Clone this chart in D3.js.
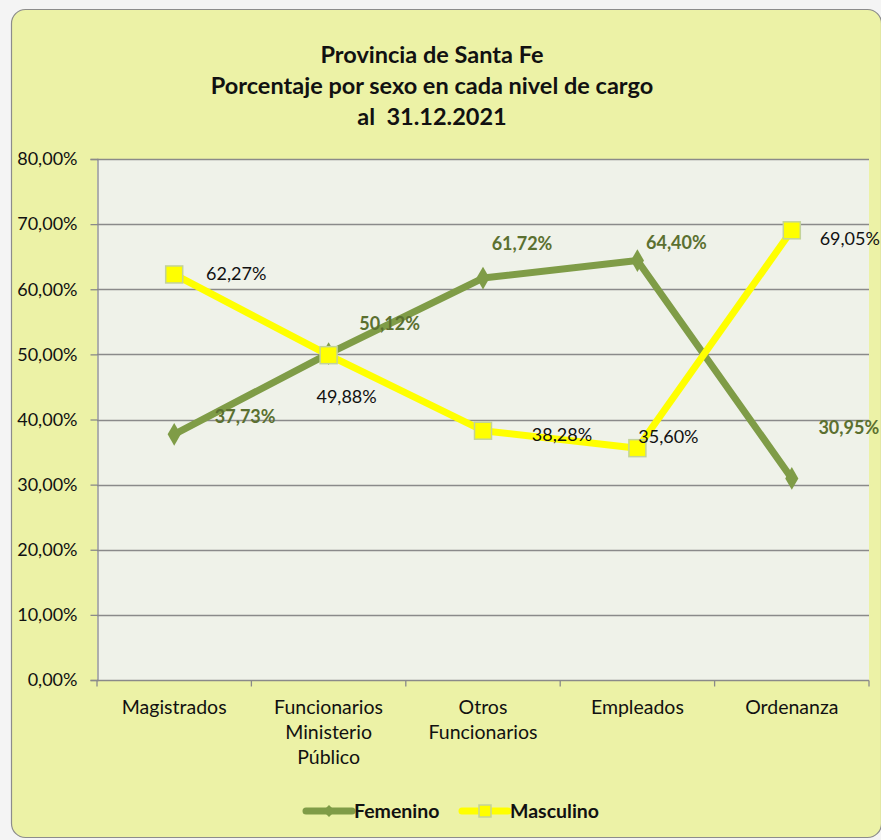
<!DOCTYPE html>
<html lang="es">
<head>
<meta charset="utf-8">
<script src="https://cdn.jsdelivr.net/npm/d3@7"></script>
<title>Porcentaje por sexo en cada nivel de cargo</title>
<style>
  body { margin: 0; background: #f4f4f4; }
  svg { display: block; font-family: Lato, "Open Sans", sans-serif; }
</style>
</head>
<body>
<div id="chart"></div>
<script>
// data
var categories = [["Magistrados"], ["Funcionarios", "Ministerio", "Público"], ["Otros", "Funcionarios"], ["Empleados"], ["Ordenanza"]];
var femenino = [37.73, 50.12, 61.72, 64.40, 30.95];
var masculino = [62.27, 49.88, 38.28, 35.60, 69.05];
var yTicks = [0, 10, 20, 30, 40, 50, 60, 70, 80];
var titleLines = ["Provincia de Santa Fe", "Porcentaje por sexo en cada nivel de cargo", "al  31.12.2021"];

// label offsets (px) relative to each point, placed as in the original
var femLabelOff = [[71, -17], [61, -30], [39, -34], [39, -18], [57, -50]];
var mascLabelOff = [[62, 0], [18, 42], [79, 4], [31, -11], [58, 9]];

var W = 881, H = 840;
var plot = {left: 97, right: 869, top: 159, bottom: 680};
var femColor = "#7f9c47", mascColor = "#ffff00";
var fmt = function(v) { return d3.format(".2f")(v).replace(".", ",") + "%"; };

var svg = d3.select("#chart").append("svg").attr("width", W).attr("height", H);

// outer chart box
svg.append("rect").attr("x", 11.5).attr("y", 9.5).attr("width", 870).attr("height", 828)
   .attr("rx", 14).attr("fill", "#ecf2a6").attr("stroke", "#8c8c8c").attr("stroke-width", 1.2);

// title
svg.append("g").selectAll("text").data(titleLines).join("text")
   .attr("x", 432).attr("y", function(d, i) { return 63 + i * 31; })
   .attr("text-anchor", "middle").attr("font-weight", "bold").attr("font-size", 23.5)
   .style("white-space", "pre").attr("fill", "#111").text(function(d) { return d; });

var x = d3.scaleBand().domain(d3.range(categories.length)).range([plot.left, plot.right]);
var y = d3.scaleLinear().domain([0, 80]).range([plot.bottom, plot.top]);

// plot area
svg.append("rect").attr("x", plot.left).attr("y", plot.top)
   .attr("width", plot.right - plot.left).attr("height", plot.bottom - plot.top).attr("fill", "#eff2e9");

// gridlines
svg.append("g").selectAll("line").data(yTicks.slice(1)).join("line")
   .attr("x1", plot.left).attr("x2", plot.right)
   .attr("y1", function(d) { return Math.round(y(d)) + 0.5; }).attr("y2", function(d) { return Math.round(y(d)) + 0.5; })
   .attr("stroke", "#8a8a8a").attr("stroke-width", 1.3);

// y axis
var yAxis = svg.append("g").attr("transform", "translate(" + (plot.left + 0.5) + ",0)")
   .call(d3.axisLeft(y).tickValues(yTicks).tickSize(7).tickPadding(13).tickFormat(fmt));
yAxis.selectAll("path, line").attr("stroke", "#8a8a8a").attr("stroke-width", 1.3);
yAxis.selectAll("text").attr("font-size", 18).attr("fill", "#111").attr("font-family", "Lato, sans-serif");

// x axis
var xAxis = svg.append("g").attr("transform", "translate(0," + (plot.bottom + 0.5) + ")");
xAxis.append("line").attr("x1", plot.left).attr("x2", plot.right).attr("stroke", "#8a8a8a").attr("stroke-width", 1.3);
xAxis.selectAll(".tk").data(d3.range(categories.length + 1)).join("line").attr("class", "tk")
   .attr("x1", function(d) { return plot.left + d * x.bandwidth(); })
   .attr("x2", function(d) { return plot.left + d * x.bandwidth(); })
   .attr("y1", 0).attr("y2", 6).attr("stroke", "#8a8a8a").attr("stroke-width", 1.3);
xAxis.selectAll(".cat").data(categories).join("text").attr("class", "cat")
   .attr("text-anchor", "middle").attr("font-size", 19.5).attr("fill", "#111")
   .each(function(d, i) {
     d3.select(this).selectAll("tspan").data(d).join("tspan")
       .attr("x", x(i) + x.bandwidth() / 2).attr("y", function(s, j) { return 33 + j * 25; })
       .text(function(s) { return s; });
   });

var cx = function(d, i) { return x(i) + x.bandwidth() / 2; };
var line = d3.line().x(function(d, i) { return x(i) + x.bandwidth() / 2; }).y(function(d) { return y(d); });

// Femenino
svg.append("path").datum(femenino).attr("d", line).attr("fill", "none")
   .attr("stroke", femColor).attr("stroke-width", 7).attr("stroke-linejoin", "round");
svg.append("g").selectAll("path").data(femenino).join("path")
   .attr("d", d3.symbol(d3.symbolDiamond, 150))
   .attr("transform", function(d, i) { return "translate(" + cx(d, i) + "," + y(d) + ")"; })
   .attr("fill", femColor);

// Masculino
svg.append("path").datum(masculino).attr("d", line).attr("fill", "none")
   .attr("stroke", mascColor).attr("stroke-width", 7).attr("stroke-linejoin", "round");
svg.append("g").selectAll("rect").data(masculino).join("rect")
   .attr("x", function(d, i) { return cx(d, i) - 8.5; }).attr("y", function(d) { return y(d) - 8.5; })
   .attr("width", 17).attr("height", 17)
   .attr("fill", mascColor).attr("stroke", "#c3d39a").attr("stroke-width", 1.5);

// data labels
svg.append("g").selectAll("text").data(femenino).join("text")
   .attr("x", function(d, i) { return cx(d, i) + femLabelOff[i][0]; })
   .attr("y", function(d, i) { return y(d) + femLabelOff[i][1] + 6; })
   .attr("text-anchor", "middle").attr("font-size", 18).attr("font-weight", "bold")
   .attr("fill", "#5b7030").text(fmt);
svg.append("g").selectAll("text").data(masculino).join("text")
   .attr("x", function(d, i) { return cx(d, i) + mascLabelOff[i][0]; })
   .attr("y", function(d, i) { return y(d) + mascLabelOff[i][1] + 6; })
   .attr("text-anchor", "middle").attr("font-size", 18)
   .attr("fill", "#111").text(fmt);

// legend
var legend = svg.append("g").attr("transform", "translate(0,811)");
var items = [{name: "Femenino", color: femColor, x: 306}, {name: "Masculino", color: mascColor, x: 462}];
items.forEach(function(it, k) {
  var g = legend.append("g").attr("transform", "translate(" + it.x + ",0)");
  g.append("line").attr("x1", 0).attr("x2", 46).attr("stroke", it.color).attr("stroke-width", 7).attr("stroke-linecap", "round");
  if (k === 0) {
    g.append("path").attr("d", "M23,-6L29,0L23,6L17,0Z").attr("fill", it.color);
  } else {
    g.append("rect").attr("x", 17).attr("y", -6).attr("width", 12).attr("height", 12)
     .attr("fill", it.color).attr("stroke", "#c3d39a").attr("stroke-width", 1.5);
  }
  g.append("text").attr("x", 48).attr("y", 7).attr("font-size", 19.5).attr("font-weight", "bold")
   .attr("fill", "#111").text(it.name);
});
</script>
</body>
</html>
